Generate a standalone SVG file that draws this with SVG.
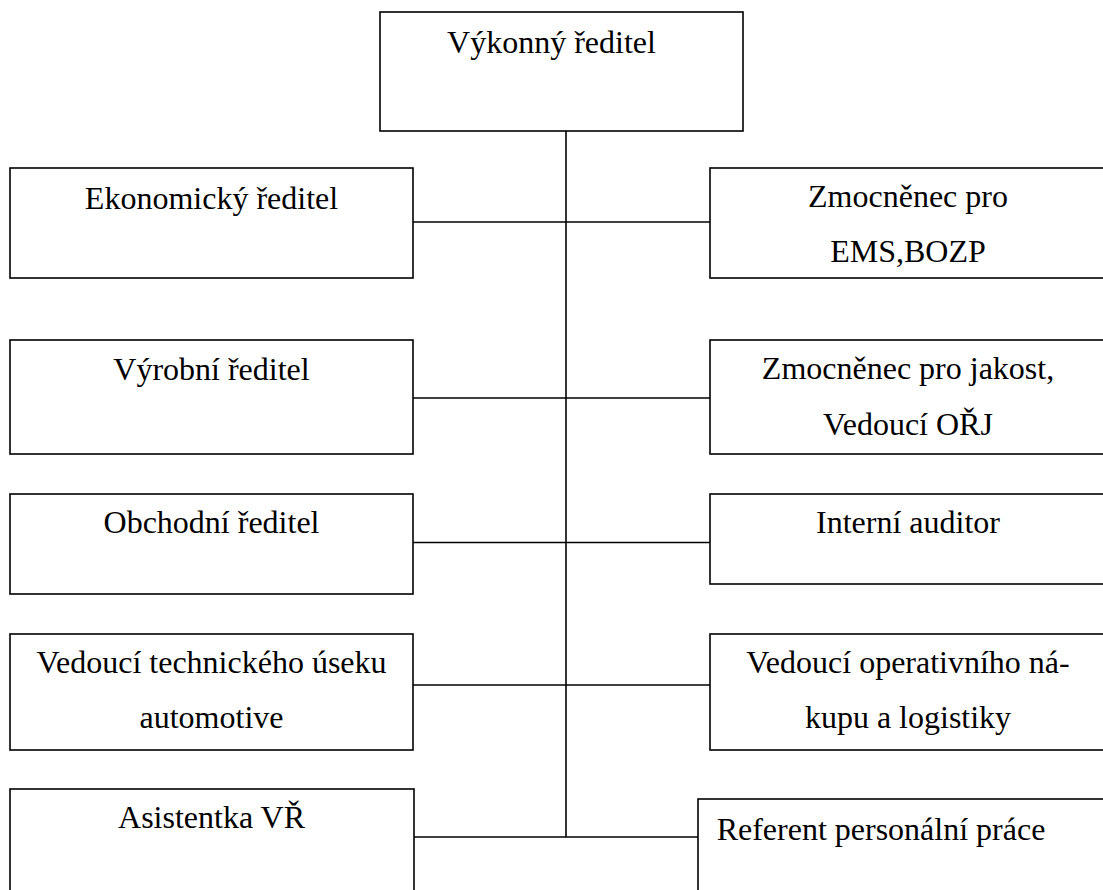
<svg xmlns="http://www.w3.org/2000/svg" width="1103" height="890" viewBox="0 0 1103 890">
  <style>
    .box { fill: #ffffff; stroke: #000000; stroke-width: 1.6; }
    .wire { fill: none; stroke: #000000; stroke-width: 1.6; }
    .label { font-family: 'Liberation Serif', 'Times New Roman', 'DejaVu Serif', serif; font-size: 32px; fill: #000000; text-anchor: middle; }
  </style>
  <rect width="1103" height="890" fill="#ffffff"/>

  <!-- connectors: trunk from the executive director plus one branch per row -->
  <g id="connectors">
    <line class="wire" x1="566" y1="131" x2="566" y2="837"/>
    <line class="wire" x1="413" y1="222" x2="710" y2="222"/>
    <line class="wire" x1="413" y1="398" x2="710" y2="398"/>
    <line class="wire" x1="413" y1="542.5" x2="710" y2="542.5"/>
    <line class="wire" x1="413" y1="685" x2="710" y2="685"/>
    <line class="wire" x1="414" y1="837" x2="698" y2="837"/>
  </g>

  <g id="vykonny-reditel">
    <rect class="box" x="380" y="12" width="363" height="119"/>
    <text class="label" x="551.5" y="53">Výkonný ředitel</text>
  </g>

  <g id="ekonomicky-reditel">
    <rect class="box" x="10" y="168" width="403" height="110"/>
    <text class="label" x="211.5" y="209">Ekonomický ředitel</text>
  </g>

  <g id="zmocnenec-ems">
    <rect class="box" x="710" y="168" width="400" height="110"/>
    <text class="label" x="908" y="207">Zmocněnec pro</text>
    <text class="label" x="908" y="262">EMS,BOZP</text>
  </g>

  <g id="vyrobni-reditel">
    <rect class="box" x="10" y="340" width="403" height="114"/>
    <text class="label" x="211.5" y="380">Výrobní ředitel</text>
  </g>

  <g id="zmocnenec-jakost">
    <rect class="box" x="710" y="340" width="400" height="114"/>
    <text class="label" x="908" y="379">Zmocněnec pro jakost,</text>
    <text class="label" x="908" y="435">Vedoucí OŘJ</text>
  </g>

  <g id="obchodni-reditel">
    <rect class="box" x="10" y="494" width="403" height="100"/>
    <text class="label" x="211.5" y="533">Obchodní ředitel</text>
  </g>

  <g id="interni-auditor">
    <rect class="box" x="710" y="494" width="400" height="90"/>
    <text class="label" x="908" y="533">Interní auditor</text>
  </g>

  <g id="vedouci-technickeho-useku">
    <rect class="box" x="10" y="634" width="403" height="116"/>
    <text class="label" x="211.5" y="673">Vedoucí technického úseku</text>
    <text class="label" x="211.5" y="728">automotive</text>
  </g>

  <g id="vedouci-nakupu">
    <rect class="box" x="710" y="634" width="400" height="116"/>
    <text class="label" x="908" y="673">Vedoucí operativního ná-</text>
    <text class="label" x="908" y="728">kupu a logistiky</text>
  </g>

  <g id="asistentka">
    <rect class="box" x="10" y="789" width="404" height="120"/>
    <text class="label" x="211.5" y="828">Asistentka VŘ</text>
  </g>

  <g id="referent-personalni-prace">
    <rect class="box" x="698" y="799" width="420" height="120"/>
    <text class="label" x="881" y="840">Referent personální práce</text>
  </g>
</svg>
